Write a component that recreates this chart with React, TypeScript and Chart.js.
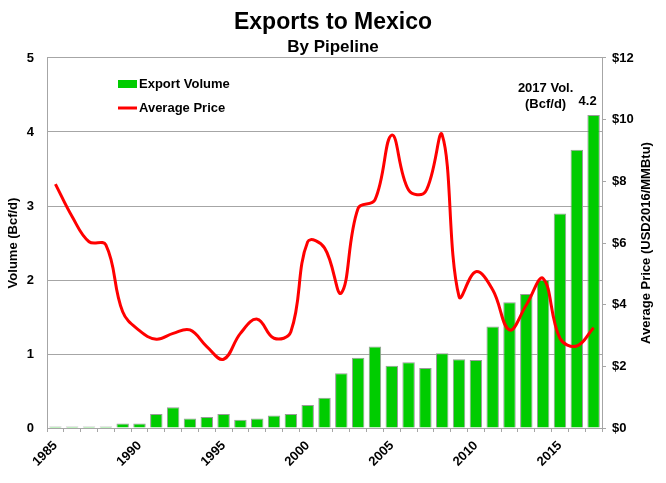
import React, { useEffect, useRef } from "react";
import { Chart, registerables } from "chart.js";
import type { Plugin } from "chart.js";

Chart.register(...registerables);

const years = [
  "1985", "1986", "1987", "1988", "1989", "1990", "1991", "1992", "1993", "1994",
  "1995", "1996", "1997", "1998", "1999", "2000", "2001", "2002", "2003", "2004",
  "2005", "2006", "2007", "2008", "2009", "2010", "2011", "2012", "2013", "2014",
  "2015", "2016", "2017",
];

// Bcf/d
const exportVolume = [
  0.02, 0.02, 0.02, 0.02, 0.06, 0.06, 0.19, 0.28, 0.13, 0.15,
  0.19, 0.11, 0.13, 0.17, 0.19, 0.31, 0.41, 0.74, 0.95, 1.1,
  0.84, 0.89, 0.81, 1.01, 0.93, 0.92, 1.37, 1.7, 1.81, 2.0,
  2.9, 3.76, 4.23,
];

// USD2016/MMBtu
const averagePrice = [
  7.91, 6.85, 6.04, 5.94, 3.77, 3.16, 2.88, 3.07, 3.18, 2.64,
  2.23, 3.07, 3.53, 2.91, 3.12, 6.04, 5.84, 4.38, 7.13, 7.4,
  9.5, 7.72, 7.66, 9.5, 4.26, 5.07, 4.48, 3.18, 3.99, 4.85,
  2.91, 2.66, 3.25,
];

const labelYears = ["1985", "1990", "1995", "2000", "2005", "2010", "2015"];

const FONT = "'Liberation Sans', Arial, sans-serif";
const GRID = "#a6a6a6";
const GREEN = "#00cc00";
const RED = "#ff0000";

const overlayPlugin: Plugin<"bar"> = {
  id: "overlay",
  afterDraw(chart) {
    const { ctx, chartArea } = chart;
    ctx.save();
    ctx.fillStyle = "#000";
    ctx.textBaseline = "middle";
    ctx.textAlign = "left";
    ctx.font = `bold 13px ${FONT}`;

    // legend
    const lx = chartArea.left + 71;
    ctx.fillStyle = GREEN;
    ctx.fillRect(lx, chartArea.top + 22, 19, 8);
    ctx.fillStyle = "#000";
    ctx.fillText("Export Volume", lx + 21, chartArea.top + 26);
    ctx.strokeStyle = RED;
    ctx.lineWidth = 3;
    ctx.beginPath();
    ctx.moveTo(lx, chartArea.top + 50);
    ctx.lineTo(lx + 19, chartArea.top + 50);
    ctx.stroke();
    ctx.fillText("Average Price", lx + 21, chartArea.top + 50);

    // last bar label
    const meta = chart.getDatasetMeta(0);
    const last = meta.data[meta.data.length - 1];
    const lastVal = exportVolume[exportVolume.length - 1];
    ctx.textAlign = "center";
    ctx.textBaseline = "alphabetic";
    ctx.fillText(lastVal.toFixed(1), last.x - 6, last.y - 10);
    ctx.fillText(`${years[years.length - 1]} Vol.`, last.x - 48, last.y - 23);
    ctx.fillText("(Bcf/d)", last.x - 48, last.y - 7);

    // right axis title, reading bottom to top
    ctx.translate(646, (chartArea.top + chartArea.bottom) / 2);
    ctx.rotate(-Math.PI / 2);
    ctx.textBaseline = "middle";
    ctx.fillText("Average Price (USD2016/MMBtu)", 0, 0);
    ctx.restore();
  },
};

const App: React.FC = () => {
  const canvasRef = useRef<HTMLCanvasElement>(null);
  const chartRef = useRef<Chart | null>(null);

  useEffect(() => {
    document.body.style.margin = "0";
    if (!canvasRef.current) return;
    const ctx = canvasRef.current.getContext("2d");
    if (!ctx) return;

    chartRef.current = new Chart(ctx, {
      type: "bar",
      data: {
        labels: years,
        datasets: [
          {
            type: "bar",
            label: "Export Volume",
            data: exportVolume,
            backgroundColor: GREEN,
            borderColor: "#9a9a9a",
            borderWidth: 1,
            barPercentage: 0.74,
            categoryPercentage: 1,
            yAxisID: "y",
            order: 2,
          },
          {
            type: "line",
            label: "Average Price",
            data: averagePrice,
            borderColor: RED,
            borderWidth: 3,
            pointRadius: 0,
            tension: 0.4,
            yAxisID: "y1",
            order: 1,
          } as any,
        ],
      },
      options: {
        animation: false,
        responsive: true,
        maintainAspectRatio: false,
        layout: { padding: 0 },
        plugins: {
          legend: { display: false },
          tooltip: { enabled: false },
          title: {
            display: true,
            text: "Exports to Mexico",
            color: "#000",
            font: { family: FONT, size: 23, weight: "bold" },
            padding: { top: 9, bottom: 0 },
          },
          subtitle: {
            display: true,
            text: "By Pipeline",
            color: "#000",
            font: { family: FONT, size: 17, weight: "bold" },
            padding: { top: 1, bottom: 0 },
          },
        },
        scales: {
          x: {
            grid: {
              drawOnChartArea: false,
              drawTicks: true,
              tickLength: 4,
              color: GRID,
            },
            border: { color: GRID },
            ticks: {
              autoSkip: false,
              minRotation: 45,
              maxRotation: 45,
              padding: 6,
              color: "#000",
              font: { family: FONT, size: 13, weight: "bold" },
              callback: (_v, i) => (labelYears.includes(years[i]) ? years[i] : ""),
            },
            afterFit: (s) => {
              s.height = 55;
            },
          },
          y: {
            position: "left",
            min: 0,
            max: 5,
            grid: { color: GRID, drawTicks: false },
            border: { color: GRID },
            ticks: {
              stepSize: 1,
              padding: 13,
              color: "#000",
              font: { family: FONT, size: 13, weight: "bold" },
            },
            title: {
              display: true,
              text: "Volume (Bcf/d)",
              color: "#000",
              font: { family: FONT, size: 13, weight: "bold" },
              padding: { top: 6, bottom: 0 },
            },
            afterFit: (s) => {
              s.width = 47;
            },
          },
          y1: {
            position: "right",
            min: 0,
            max: 12,
            grid: { drawOnChartArea: false, color: GRID, tickLength: 4 },
            border: { color: GRID },
            ticks: {
              stepSize: 2,
              padding: 6,
              color: "#000",
              font: { family: FONT, size: 13, weight: "bold" },
              callback: (v) => `$${v}`,
            },
            afterFit: (s) => {
              s.width = 64;
            },
          },
        },
      },
      plugins: [overlayPlugin],
    });

    return () => {
      if (chartRef.current) {
        chartRef.current.destroy();
        chartRef.current = null;
      }
    };
  }, []);

  return (
    <div style={{ width: "666px", height: "483px", position: "relative", background: "#fff" }}>
      <canvas ref={canvasRef}></canvas>
    </div>
  );
};

export default App;
